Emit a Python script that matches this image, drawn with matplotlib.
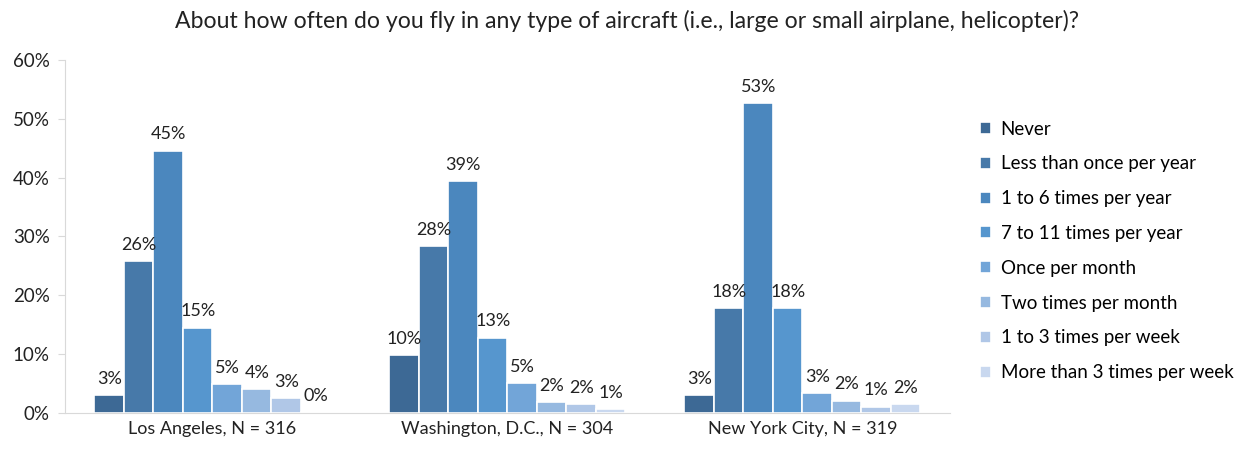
import numpy as np
import matplotlib.pyplot as plt

cities = ['Los Angeles, N = 316', 'Washington, D.C., N = 304', 'New York City, N = 319']
answers = ['Never', 'Less than once per year', '1 to 6 times per year',
           '7 to 11 times per year', 'Once per month', 'Two times per month',
           '1 to 3 times per week', 'More than 3 times per week']

# percent of respondents, one list per city, in the order of answers
la = [3.0, 25.8, 44.6, 14.5, 4.9, 4.0, 2.5, 0.2]
dc = [9.8, 28.3, 39.4, 12.8, 5.1, 1.8, 1.5, 0.6]
nyc = [3.0, 17.8, 52.7, 17.8, 3.4, 2.1, 1.1, 1.5]

colors = ['#3D6995', '#4779A9', '#4B87BE', '#5696CE', '#72A5D8',
          '#96B9E0', '#B0C7E7', '#C9D8EF']

plt.rcParams['font.family'] = ['Lato', 'DejaVu Sans']

fig = plt.figure(figsize=(12.45, 4.51), dpi=100)
ax = fig.add_axes([0.0522, 0.0843, 0.7108, 0.7827])

data = np.array([la, dc, nyc])
x = np.arange(len(cities))
w = 0.1
for i, name in enumerate(answers):
    pos = x + (i - 3.5) * w
    vals = data[:, i]
    ax.bar(pos, vals, w, color=colors[i], edgecolor='white', linewidth=1.2, label=name)
    for p, v in zip(pos, vals):
        ax.text(p, v + 1.4, '%d%%' % int(v + 0.5), ha='center', va='bottom',
                fontsize=13, color='#222222')

ax.set_xlim(-0.5, 2.5)
ax.set_ylim(0, 60)
ax.set_yticks(range(0, 61, 10))
ax.set_yticklabels(['%d%%' % t for t in range(0, 61, 10)], fontsize=13.5, color='#222222')
ax.set_xticks(x)
ax.set_xticklabels(cities, fontsize=13, color='#222222')
ax.tick_params(axis='x', length=0, pad=6)
ax.tick_params(axis='y', length=5, color='#D9D9D9', pad=6)
for s in ['top', 'right']:
    ax.spines[s].set_visible(False)
for s in ['left', 'bottom']:
    ax.spines[s].set_color('#D9D9D9')

fig.suptitle('About how often do you fly in any type of aircraft (i.e., large or small airplane, helicopter)?',
             x=0.504, y=0.978, fontsize=16.6, color='#222222')

ax.legend(loc='center left', bbox_to_anchor=(1.015, 0.459), frameon=False, fontsize=13.5,
          handlelength=0.6, handleheight=0.6, labelspacing=0.95, handletextpad=0.5)

fig.savefig('out.png', dpi=100)
